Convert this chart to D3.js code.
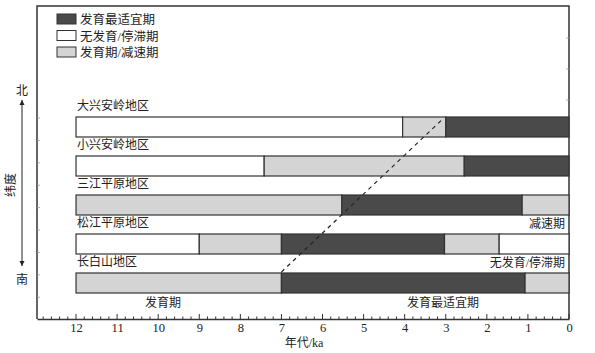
<!DOCTYPE html>
<html>
<head>
<meta charset="utf-8">
<script src="https://cdn.jsdelivr.net/npm/d3@7"></script>
<style>
  body { margin: 0; background: #fff; }
  svg text { font-family: "Liberation Serif", "Noto Sans CJK SC", serif; fill: #222; }
</style>
</head>
<body>
<svg id="chart"></svg>
<script>
const width = 595, height = 353;

// data (ka BP)
const regions = ["大兴安岭地区", "小兴安岭地区", "三江平原地区", "松江平原地区", "长白山地区"];
const breaks = [
  [12, 4.05, 3.0, 0],
  [12, 7.42, 2.55, 0],
  [12, 5.53, 1.14, 0],
  [12, 9.0, 7.0, 3.03, 1.7, 0],
  [12, 7.0, 1.07, 0]
];
const phases = [
  ["none", "slow", "opt"],
  ["none", "slow", "opt"],
  ["slow", "opt", "slow"],
  ["none", "slow", "opt", "slow", "none"],
  ["slow", "opt", "slow"]
];
const legendItems = [
  { key: "opt", label: "发育最适宜期" },
  { key: "none", label: "无发育/停滞期" },
  { key: "slow", label: "发育期/减速期" }
];
const trend = [{ t: 7.0, row: 4 }, { t: 3.1, row: 0 }];
const xTicks = d3.range(0, 13);

const fill = { opt: "#4a4a4a", none: "#ffffff", slow: "#d4d4d4" };

const svg = d3.select("#chart").attr("width", width).attr("height", height);

const x = d3.scaleLinear().domain([12.95, 0]).range([37, 569]);
const y = d3.scalePoint().domain(d3.range(regions.length)).range([117, 273]);
const barH = 20;
const axisY = 319, topY = 6;

// frame
svg.append("path")
   .attr("d", `M${x.range()[0]},${axisY}V${topY}H${x.range()[1]}V${axisY}`)
   .attr("fill", "none")
   .attr("stroke", "#333")
   .attr("stroke-width", 1.5);

// faint ticks on the side frames
d3.range(118, 300, 22.4).forEach(ty => {
    svg.append("line").attr("x1", 37).attr("x2", 40).attr("y1", ty).attr("y2", ty)
       .attr("stroke", "#999").attr("stroke-width", 0.8);
});
[38, 69, 100].forEach(ty => {
    svg.append("line").attr("x1", 566).attr("x2", 569).attr("y1", ty).attr("y2", ty)
       .attr("stroke", "#999").attr("stroke-width", 0.8);
});

// bottom axis
const axis = d3.axisBottom(x).tickValues(xTicks).tickFormat(d3.format("d")).tickSize(0).tickPadding(4);
const gx = svg.append("g").attr("transform", `translate(0,${axisY})`).call(axis);
gx.select(".domain").attr("stroke", "#333").attr("stroke-width", 1.5);
gx.selectAll("text").attr("font-size", 12.5).attr("font-family", "Liberation Serif").attr("fill", "#222");

const minor = d3.range(0, 12.95, 0.2);
svg.append("g").selectAll("line")
   .data(minor)
   .join("line")
   .attr("x1", d => x(d)).attr("x2", d => x(d))
   .attr("y1", axisY)
   .attr("y2", d => Math.abs(d - Math.round(d)) < 1e-6 ? axisY - 5 : axisY - 2.5)
   .attr("stroke", "#333")
   .attr("stroke-width", 1);

svg.append("text")
   .attr("x", 304).attr("y", 347)
   .attr("text-anchor", "middle")
   .attr("font-size", 12)
   .text("年代/ka");

// bars
regions.forEach((name, i) => {
    const segs = phases[i].map((p, j) => ({ p, a: breaks[i][j], b: breaks[i][j + 1] }));
    svg.append("g").selectAll("rect")
       .data(segs)
       .join("rect")
       .attr("x", d => x(d.a))
       .attr("width", d => x(d.b) - x(d.a))
       .attr("y", y(i))
       .attr("height", barH)
       .attr("fill", d => fill[d.p])
       .attr("stroke", "#333")
       .attr("stroke-width", 1.2);

    svg.append("text")
       .attr("x", x(12) + 1)
       .attr("y", y(i) - 7)
       .attr("font-size", 12)
       .text(name);
});

// trend line
svg.append("line")
   .attr("x1", x(trend[0].t)).attr("y1", y(trend[0].row) - 1)
   .attr("x2", x(trend[1].t)).attr("y2", y(trend[1].row) + 3)
   .attr("stroke", "#222")
   .attr("stroke-width", 1.2)
   .attr("stroke-dasharray", "4,4");

// phase annotations
svg.append("text").attr("x", 565).attr("y", 228).attr("text-anchor", "end").attr("font-size", 12).text("减速期");
svg.append("text").attr("x", 565).attr("y", 267).attr("text-anchor", "end").attr("font-size", 12).text("无发育/停滞期");
svg.append("text").attr("x", 163).attr("y", 307).attr("text-anchor", "middle").attr("font-size", 12).text("发育期");
svg.append("text").attr("x", 443).attr("y", 307).attr("text-anchor", "middle").attr("font-size", 12).text("发育最适宜期");

// legend
const lg = svg.append("g").attr("transform", "translate(57,14)");
legendItems.forEach((d, i) => {
    lg.append("rect")
      .attr("x", 0).attr("y", i * 16.5)
      .attr("width", 19).attr("height", 10)
      .attr("fill", fill[d.key])
      .attr("stroke", "#333")
      .attr("stroke-width", 1);
    lg.append("text")
      .attr("x", 23).attr("y", i * 16.5 + 10)
      .attr("font-size", 12.5)
      .text(d.label);
});

// latitude arrow
const defs = svg.append("defs");
defs.append("marker")
    .attr("id", "ah").attr("viewBox", "0 0 10 10")
    .attr("refX", 10).attr("refY", 5)
    .attr("markerWidth", 5).attr("markerHeight", 6)
    .attr("orient", "auto-start-reverse")
    .append("path").attr("d", "M0,0L10,5L0,10Z").attr("fill", "#222");
svg.append("line")
   .attr("x1", 22).attr("x2", 22).attr("y1", 100).attr("y2", 266)
   .attr("stroke", "#222").attr("stroke-width", 1)
   .attr("marker-start", "url(#ah)").attr("marker-end", "url(#ah)");
svg.append("text").attr("x", 22).attr("y", 95).attr("text-anchor", "middle").attr("font-size", 12).text("北");
svg.append("text").attr("x", 22).attr("y", 284).attr("text-anchor", "middle").attr("font-size", 12).text("南");
svg.append("text")
   .attr("transform", "translate(11,185) rotate(-90)")
   .attr("text-anchor", "middle")
   .attr("dominant-baseline", "central")
   .attr("font-size", 12)
   .text("纬度");
</script>
</body>
</html>
